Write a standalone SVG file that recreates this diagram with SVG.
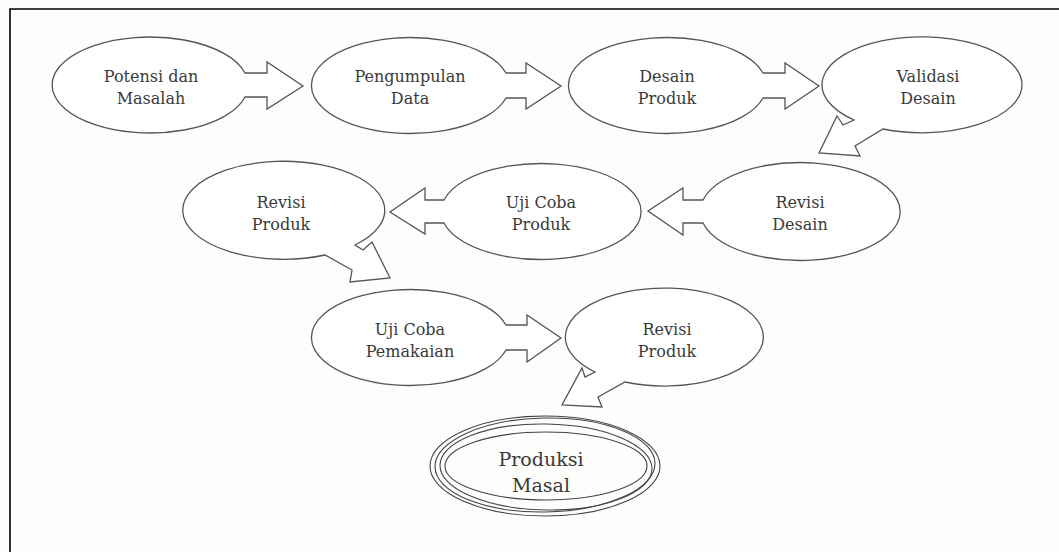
<svg xmlns="http://www.w3.org/2000/svg" width="1059" height="552" viewBox="0 0 1059 552">
<style>
.shape{fill:#ffffff;stroke:#555555;stroke-width:1.3;stroke-linejoin:miter}
.ring{fill:none;stroke:#444444;stroke-width:1.1}
.lbl{font-family:"DejaVu Serif","Liberation Serif",serif;font-size:16px;fill:#3a3a3a;text-anchor:middle}
.big{font-size:19px}
.frame{stroke:#000000;stroke-width:1.6;fill:none}
</style>
<rect width="1059" height="552" fill="#fdfdfb"/>
<path class="frame" d="M10,552 L10,9 L1059,9"/>

<g id="n1">
<path class="shape" d="M245,73 L267,73 L267,62 L303,86 L267,109 L267,97 L245,97 A98 48 0 1 1 245,73 Z"/>
<text class="lbl" x="151" y="82">Potensi dan</text>
<text class="lbl" x="151" y="104">Masalah</text>
</g>
<g id="n2">
<path class="shape" d="M506,73 L526,73 L526,63 L561,86 L526,109 L526,98 L506,98 A99 48 0 1 1 506,73 Z"/>
<text class="lbl" x="410" y="82">Pengumpulan</text>
<text class="lbl" x="410" y="104">Data</text>
</g>
<g id="n3">
<path class="shape" d="M763,73 L785,73 L785,63 L819,86 L785,109 L785,98 L763,98 A99 48 0 1 1 763,73 Z"/>
<text class="lbl" x="667" y="82">Desain</text>
<text class="lbl" x="667" y="104">Produk</text>
</g>
<g id="n4">
<path class="shape" d="M883,129 A100 48 0 1 0 854,120 L843,125 L837,116 L819,153 L860,156 L855,146 Z"/>
<text class="lbl" x="928" y="82">Validasi</text>
<text class="lbl" x="928" y="104">Desain</text>
</g>
<g id="n5">
<path class="shape" d="M703,200 L683,200 L683,188 L648,211 L683,235 L683,223 L703,223 A100 49 0 1 0 703,200 Z"/>
<text class="lbl" x="800" y="208">Revisi</text>
<text class="lbl" x="800" y="230">Desain</text>
</g>
<g id="n6">
<path class="shape" d="M444,200 L425,200 L425,188 L390,212 L425,234 L425,223 L444,223 A100 48 0 1 0 444,200 Z"/>
<text class="lbl" x="541" y="208">Uji Coba</text>
<text class="lbl" x="541" y="230">Produk</text>
</g>
<g id="n7">
<path class="shape" d="M355,245 A101 49 0 1 0 325,255 L352,270 L350,282 L390,278 L372,242 L363,250 Z"/>
<text class="lbl" x="281" y="208">Revisi</text>
<text class="lbl" x="281" y="230">Produk</text>
</g>
<g id="n8">
<path class="shape" d="M506,325 L527,325 L527,315 L561,338 L527,362 L527,350 L506,350 A99 48 0 1 1 506,325 Z"/>
<text class="lbl" x="410" y="335">Uji Coba</text>
<text class="lbl" x="410" y="357">Pemakaian</text>
</g>
<g id="n9">
<path class="shape" d="M625,382 A99 49 0 1 0 595,372 L585,377 L582,368 L562,405 L602,407 L598,397 Z"/>
<text class="lbl" x="667" y="335">Revisi</text>
<text class="lbl" x="667" y="357">Produk</text>
</g>
<g id="n10">
<ellipse class="ring" cx="545" cy="466" rx="115" ry="50"/>
<ellipse class="ring" cx="545" cy="465" rx="110" ry="47" transform="rotate(-1 545 465)"/>
<ellipse class="ring" cx="546" cy="467" rx="106" ry="43" transform="rotate(1 546 467)"/>
<ellipse class="ring" cx="546" cy="466" rx="101" ry="34"/>
<text class="lbl big" x="541" y="466">Produksi</text>
<text class="lbl big" x="541" y="492">Masal</text>
</g>
<g id="connectors"></g>
</svg>
